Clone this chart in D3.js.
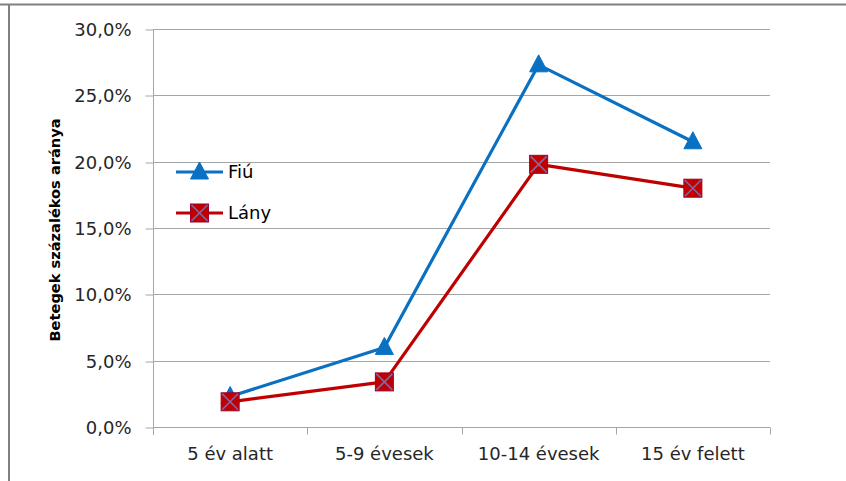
<!DOCTYPE html>
<html>
<head>
<meta charset="utf-8">
<script src="https://cdn.jsdelivr.net/npm/d3@7"></script>
<style>
  html, body { margin: 0; padding: 0; background: #fff; }
  svg { display: block; font-family: "DejaVu Sans", sans-serif; }
</style>
</head>
<body>
<svg id="chart" width="846" height="481"></svg>
<script>
// Age groups and share of patients by sex
const categories = ["5 év alatt", "5-9 évesek", "10-14 évesek", "15 év felett"];
const fiuValues  = [2.3, 6.0, 27.3, 21.5];
const lanyValues = [1.9, 3.4, 19.8, 18.0];
const yTicks = [0, 5, 10, 15, 20, 25, 30];
const seriesNames = ["Fiú", "Lány"];

const svg = d3.select("#chart");
const W = 846, H = 481;
const plot = { left: 153, right: 770, top: 29, bottom: 427 };

// outer frame (top and left edges)
svg.append("line").attr("x1", 0).attr("x2", W).attr("y1", 4.5).attr("y2", 4.5)
  .attr("stroke", "#808080").attr("stroke-width", 2);
svg.append("line").attr("x1", 9).attr("x2", 9).attr("y1", 4).attr("y2", H)
  .attr("stroke", "#808080").attr("stroke-width", 2);

const x = d3.scaleBand().domain(categories).range([plot.left, plot.right]);
const y = d3.scaleLinear().domain([0, 30]).range([plot.bottom, plot.top]);

const fmt = v => d3.format(".1f")(v).replace(".", ",") + "%";

// horizontal gridlines
svg.append("g").selectAll("line").data(yTicks.filter(t => t > 0)).join("line")
  .attr("x1", plot.left).attr("x2", plot.right)
  .attr("y1", d => Math.round(y(d)) + 0.5).attr("y2", d => Math.round(y(d)) + 0.5)
  .attr("stroke", "#a6a6a6").attr("stroke-width", 1);

// y axis
const yAxis = svg.append("g").attr("transform", `translate(${plot.left + 0.5},0)`)
  .call(d3.axisLeft(y).tickValues(yTicks).tickFormat(fmt).tickSize(8).tickPadding(14));
yAxis.select(".domain").attr("stroke", "#a6a6a6").attr("d", `M0,${plot.top}V${plot.bottom + 8}`);
yAxis.selectAll(".tick line").attr("stroke", "#a6a6a6")
  .attr("transform", function(d){ return `translate(0,${Math.round(y(d)) + 0.5 - y(d)})`; });
yAxis.selectAll(".tick text").attr("fill", "#262626").attr("font-size", 18)
  .attr("font-family", "DejaVu Sans").attr("dy", "0.36em");

// x axis
const xAxis = svg.append("g").attr("transform", `translate(0,${plot.bottom + 0.5})`)
  .call(d3.axisBottom(x).tickSize(0).tickPadding(20));
xAxis.select(".domain").attr("stroke", "#a6a6a6").attr("d", `M${plot.left},0H${plot.right}`);
xAxis.selectAll(".tick text").attr("fill", "#262626").attr("font-size", 18)
  .attr("font-family", "DejaVu Sans");
// category boundary ticks
const bounds = categories.map(c => x(c)).concat([x(categories[categories.length - 1]) + x.bandwidth()]);
xAxis.append("g").selectAll("line").data(bounds).join("line")
  .attr("x1", d => Math.round(d) + 0.5).attr("x2", d => Math.round(d) + 0.5)
  .attr("y1", 0).attr("y2", 7).attr("stroke", "#a6a6a6");

// y axis title
svg.append("text")
  .attr("transform", `translate(60,230) rotate(-90)`)
  .attr("text-anchor", "middle").attr("font-weight", "bold").attr("font-size", 14.6)
  .attr("fill", "#000").text("Betegek százalékos aránya");

const cx = c => x(c) + x.bandwidth() / 2;
const blue = "#0A70C2", red = "#C00000";
const line = d3.line().x((d, i) => cx(categories[i])).y(d => y(d));

function triangle(g, px, py) {
  const s = 9;
  g.append("path")
    .attr("d", `M${px},${py - s - 1}L${px + s},${py + s - 2}L${px - s},${py + s - 2}Z`)
    .attr("fill", blue).attr("stroke", blue).attr("stroke-width", 1);
}
function square(g, px, py) {
  const s = 9;
  g.append("rect").attr("x", px - s).attr("y", py - s).attr("width", 2 * s).attr("height", 2 * s)
    .attr("fill", red).attr("stroke", "#A0002A").attr("stroke-width", 1);
  g.append("path")
    .attr("d", `M${px - s + 1},${py - s + 1}L${px + s - 1},${py + s - 1}M${px + s - 1},${py - s + 1}L${px - s + 1},${py + s - 1}`)
    .attr("stroke", "#7A6AAE").attr("stroke-width", 1.6);
}

// Fiú series
svg.append("path").datum(fiuValues).attr("d", line)
  .attr("fill", "none").attr("stroke", blue).attr("stroke-width", 3.2).attr("stroke-linejoin", "round");
const gF = svg.append("g");
fiuValues.forEach((v, i) => triangle(gF, cx(categories[i]), y(v)));

// Lány series
svg.append("path").datum(lanyValues).attr("d", line)
  .attr("fill", "none").attr("stroke", red).attr("stroke-width", 3.2).attr("stroke-linejoin", "round");
const gL = svg.append("g");
lanyValues.forEach((v, i) => square(gL, cx(categories[i]), y(v)));

// legend
const legend = svg.append("g");
const legendY = [172, 213];
seriesNames.forEach((name, i) => {
  const ly = legendY[i];
  const col = i === 0 ? blue : red;
  legend.append("line").attr("x1", 176).attr("x2", 223).attr("y1", ly).attr("y2", ly)
    .attr("stroke", col).attr("stroke-width", 3.2);
  if (i === 0) triangle(legend, 199.5, ly); else square(legend, 199.5, ly);
  legend.append("text").attr("x", 228).attr("y", ly).attr("dy", "0.36em")
    .attr("font-size", 18).attr("fill", "#000").text(name);
});
</script>
</body>
</html>
